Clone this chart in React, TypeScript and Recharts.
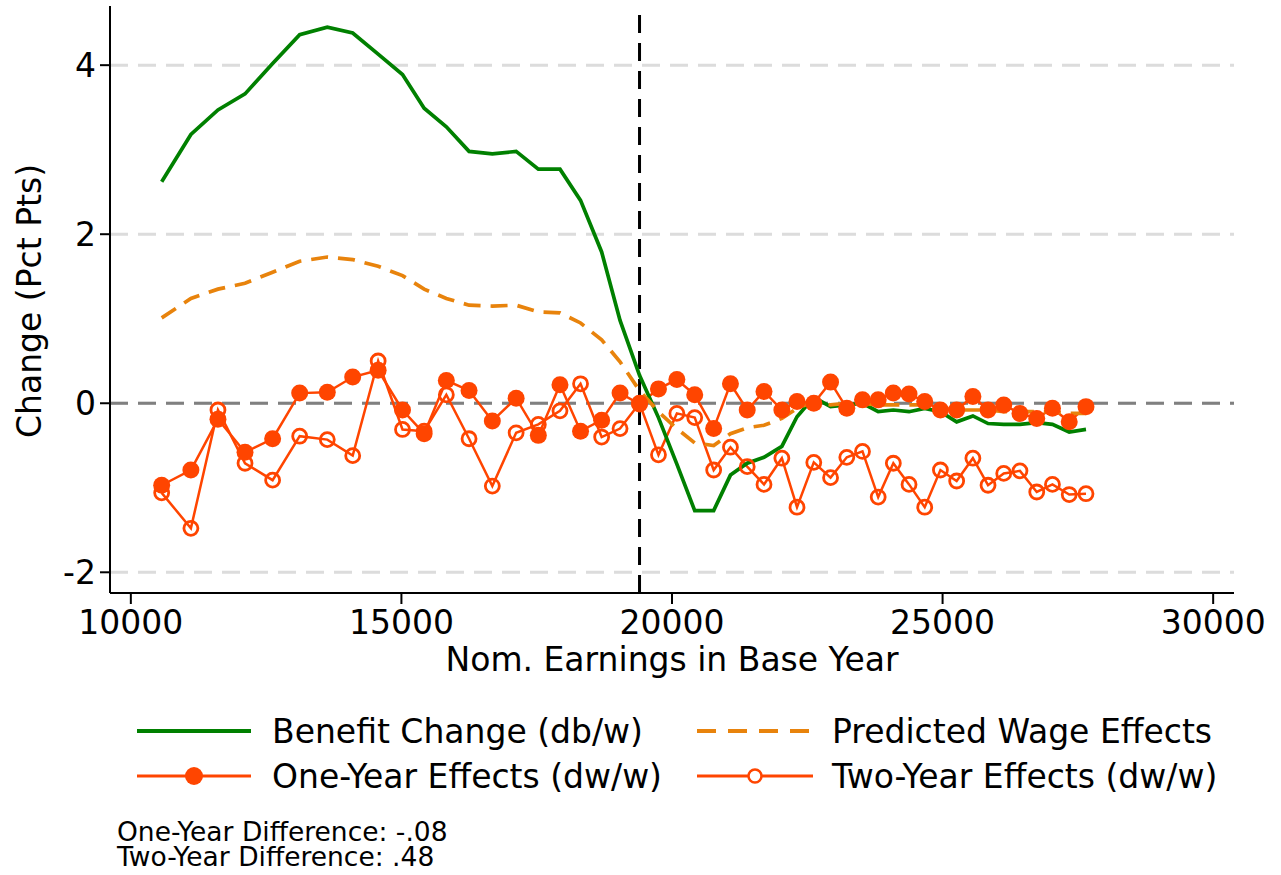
import React from 'react';
import { ComposedChart, Line, XAxis, YAxis, CartesianGrid, ReferenceLine } from 'recharts';

const earnings = [10570, 11110, 11610, 12110, 12620, 13120, 13630, 14100, 14570, 15020, 15420, 15830, 16250, 16680, 17120, 17530, 17930, 18310, 18700, 19040, 19400, 19750, 20090, 20420, 20770, 21080, 21390, 21700, 22030, 22310, 22620, 22930, 23230, 23520, 23810, 24090, 24380, 24670, 24960, 25260, 25560, 25840, 26130, 26430, 26740, 27030, 27340, 27650];
const benefitChange = [2.62, 3.18, 3.47, 3.66, 4.02, 4.36, 4.45, 4.38, 4.13, 3.89, 3.49, 3.27, 2.98, 2.95, 2.98, 2.77, 2.77, 2.40, 1.79, 0.98, 0.33, -0.17, -0.72, -1.27, -1.27, -0.85, -0.71, -0.64, -0.51, -0.16, 0.07, -0.04, -0.02, 0.00, -0.10, -0.08, -0.10, -0.06, -0.10, -0.22, -0.15, -0.24, -0.25, -0.25, -0.23, -0.25, -0.34, -0.31];
const predictedWage = [1.01, 1.24, 1.35, 1.42, 1.55, 1.68, 1.73, 1.70, 1.62, 1.51, 1.35, 1.24, 1.16, 1.15, 1.16, 1.08, 1.07, 0.95, 0.75, 0.49, 0.15, -0.10, -0.30, -0.47, -0.50, -0.36, -0.29, -0.26, -0.18, -0.06, 0.02, -0.02, 0.00, 0.00, -0.02, -0.02, -0.02, -0.02, -0.06, -0.08, -0.08, -0.08, -0.10, -0.10, -0.10, -0.10, -0.12, -0.12];
const oneYear = [-0.97, -0.79, -0.19, -0.58, -0.42, 0.12, 0.13, 0.31, 0.39, -0.08, -0.36, 0.27, 0.15, -0.21, 0.06, -0.38, 0.22, -0.33, -0.20, 0.12, -0.01, 0.17, 0.28, 0.10, -0.30, 0.23, -0.08, 0.14, -0.08, 0.02, 0.00, 0.25, -0.06, 0.04, 0.04, 0.12, 0.11, 0.02, -0.08, -0.08, 0.08, -0.08, -0.02, -0.12, -0.18, -0.06, -0.22, -0.04];
const twoYear = [-1.06, -1.48, -0.08, -0.71, -0.91, -0.39, -0.43, -0.62, 0.50, -0.31, -0.33, 0.10, -0.42, -0.98, -0.35, -0.25, -0.09, 0.23, -0.40, -0.30, 0.00, -0.61, -0.12, -0.17, -0.79, -0.52, -0.75, -0.96, -0.65, -1.23, -0.70, -0.88, -0.64, -0.57, -1.11, -0.71, -0.96, -1.23, -0.79, -0.92, -0.65, -0.97, -0.83, -0.80, -1.05, -0.96, -1.08, -1.07];

const xTicks = [10000, 15000, 20000, 25000, 30000];
const yTicks = [-2, 0, 2, 4];
const xDomain = [9615, 30385];
const yDomain = [-2.245, 4.7];
const kinkEarnings = 19400;

const seriesLabels = ['Benefit Change (db/w)', 'Predicted Wage Effects', 'One-Year Effects (dw/w)', 'Two-Year Effects (dw/w)'];
const xTitle = 'Nom. Earnings in Base Year';
const yTitle = 'Change (Pct Pts)';
const footnotes = ['One-Year Difference: -.08', 'Two-Year Difference: .48'];

const data = earnings.map((x, i) => ({
  x,
  benefit: benefitChange[i],
  wage: predictedWage[i],
  one: oneYear[i],
  two: twoYear[i],
}));

const FONT = '"DejaVu Sans", sans-serif';
const GREEN = '#008000';
const ORANGE = '#E8830C';
const RED = '#FF4500';
const FS = 33;

const YLabel = () => (
  <text x={29} y={301} transform="rotate(-90 29 301)" textAnchor="middle" dominantBaseline="central" fontSize={FS} fontFamily={FONT} fill="#000">
    {yTitle}
  </text>
);

const LegendBox = () => (
  <svg width={1281} height={130} style={{ position: 'absolute', left: 0, top: 690 }}>
    <g fontFamily={FONT} fontSize={FS} fill="#000">
      <line x1={137} x2={251} y1={41} y2={41} stroke={GREEN} strokeWidth={4} />
      <text x={272} y={41} dominantBaseline="central">{seriesLabels[0]}</text>
      <line x1={697} x2={813} y1={41} y2={41} stroke={ORANGE} strokeWidth={4} strokeDasharray="19 12" />
      <text x={832} y={41} dominantBaseline="central">{seriesLabels[1]}</text>
      <line x1={137} x2={251} y1={86} y2={86} stroke={RED} strokeWidth={3} />
      <circle cx={194} cy={86} r={9} fill={RED} />
      <text x={272} y={86} dominantBaseline="central">{seriesLabels[2]}</text>
      <line x1={697} x2={813} y1={86} y2={86} stroke={RED} strokeWidth={3} />
      <circle cx={755} cy={86} r={6.5} fill="#fff" stroke={RED} strokeWidth={2.5} />
      <text x={832} y={86} dominantBaseline="central">{seriesLabels[3]}</text>
    </g>
  </svg>
);

export default function App() {
  return (
    <div style={{ position: 'absolute', left: 0, top: 0, width: 1281, height: 875, background: '#fff', fontFamily: FONT }}>
      <ComposedChart width={1281} height={875} data={data} margin={{ top: 6, right: 47, bottom: 242, left: 10 }}>
        <CartesianGrid vertical={false} horizontalValues={yTicks} stroke="#DCDCDC" strokeWidth={3} strokeDasharray="18 10" />
        <XAxis
          type="number"
          dataKey="x"
          domain={xDomain}
          ticks={xTicks}
          allowDataOverflow
          height={40}
          tickSize={11}
          tickMargin={7}
          axisLine={{ stroke: '#000', strokeWidth: 2 }}
          tickLine={{ stroke: '#000', strokeWidth: 2 }}
          tick={{ fontSize: FS, fill: '#000', fontFamily: FONT }}
          label={{ value: xTitle, position: 'bottom', offset: 15, fontSize: FS, fill: '#000', fontFamily: FONT }}
        />
        <YAxis
          type="number"
          domain={yDomain}
          ticks={yTicks}
          allowDataOverflow
          width={100}
          tickSize={10}
          tickMargin={4}
          axisLine={{ stroke: '#000', strokeWidth: 2 }}
          tickLine={{ stroke: '#000', strokeWidth: 2 }}
          tick={{ fontSize: FS, fill: '#000', fontFamily: FONT }}
          label={<YLabel />}
        />
        <ReferenceLine y={0} stroke="#808080" strokeWidth={3} strokeDasharray="18 10" />
        <ReferenceLine x={kinkEarnings} stroke="#000" strokeWidth={3} strokeDasharray="18 10" />
        <Line dataKey="two" stroke={RED} strokeWidth={2.5} isAnimationActive={false}
          dot={{ r: 7, fill: 'none', stroke: RED, strokeWidth: 2.8 }} activeDot={false} />
        <Line dataKey="one" stroke={RED} strokeWidth={2.5} isAnimationActive={false}
          dot={{ r: 8.5, fill: RED, stroke: RED, strokeWidth: 0 }} activeDot={false} />
        <Line dataKey="benefit" stroke={GREEN} strokeWidth={3.7} isAnimationActive={false} dot={false} activeDot={false} />
        <Line dataKey="wage" stroke={ORANGE} strokeWidth={3.7} strokeDasharray="17 10" isAnimationActive={false} dot={false} activeDot={false} />
      </ComposedChart>
      <LegendBox />
      <div style={{ position: 'absolute', left: 117, top: 819, fontSize: 26.5, lineHeight: '25px', color: '#000', fontFamily: FONT }}>
        {footnotes.map((f) => (
          <div key={f}>{f}</div>
        ))}
      </div>
    </div>
  );
}
